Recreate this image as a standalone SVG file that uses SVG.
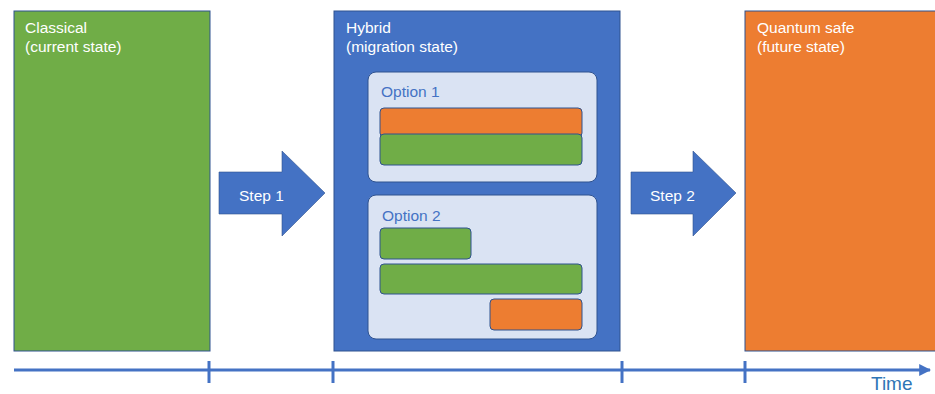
<svg xmlns="http://www.w3.org/2000/svg" width="935" height="394" viewBox="0 0 935 394">
  <defs>
    <style>
      .stage { stroke: #2F528F; stroke-width: 1; }
      .green { fill: #70AD47; }
      .blue { fill: #4472C4; }
      .orange { fill: #ED7D31; }
      .opt { fill: #DAE3F3; stroke: #2F528F; stroke-width: 1; }
      .bar { stroke: #2F528F; stroke-width: 1; }
      .lbl { font-family: "Liberation Sans", Arial, sans-serif; font-size: 15.5px; fill: #FFFFFF; }
      .optlbl { font-family: "Liberation Sans", Arial, sans-serif; font-size: 15.5px; fill: #4472C4; }
      .axis { stroke: #4472C4; stroke-width: 3; fill: none; }
    </style>
    <marker id="axisHead" viewBox="0 0 10 10" refX="9" refY="5" markerWidth="4" markerHeight="4" orient="auto" markerUnits="strokeWidth">
      <path d="M0,0 L10,5 L0,10 z" fill="#4472C4"/>
    </marker>
  </defs>

  <!-- Stage: classical -->
  <g id="classical">
    <rect class="stage green" x="14" y="11" width="196" height="340"/>
    <text class="lbl" x="25" y="33">Classical</text>
    <text class="lbl" x="25" y="52">(current state)</text>
  </g>

  <!-- Stage: hybrid with two options -->
  <g id="hybrid">
    <rect class="stage blue" x="334" y="11" width="286" height="340"/>
    <text class="lbl" x="346" y="33">Hybrid</text>
    <text class="lbl" x="346" y="52">(migration state)</text>
  </g>

  <g id="option1">
    <rect class="opt" x="368" y="72" width="229" height="110" rx="8"/>
    <text class="optlbl" x="381" y="97">Option 1</text>
    <rect class="bar orange" x="380" y="108" width="202" height="29" rx="4"/>
    <rect class="bar green" x="380" y="134" width="202" height="31" rx="4"/>
  </g>

  <g id="option2">
    <rect class="opt" x="368" y="195" width="229" height="144" rx="8"/>
    <text class="optlbl" x="382" y="221">Option 2</text>
    <rect class="bar green" x="380" y="228" width="91" height="31" rx="4"/>
    <rect class="bar green" x="380" y="264" width="202" height="30" rx="4"/>
    <rect class="bar orange" x="490" y="299" width="92" height="31" rx="4"/>
  </g>

  <!-- Stage: quantum safe -->
  <g id="quantum">
    <rect class="stage orange" x="745" y="11" width="192" height="340"/>
    <text class="lbl" x="757" y="33">Quantum safe</text>
    <text class="lbl" x="757" y="52">(future state)</text>
  </g>

  <!-- Transition arrows -->
  <g id="step1">
    <polygon class="blue" stroke="#2F528F" stroke-width="0.6" points="219,172 282,172 282,151 325,193 282,236 282,214 219,214"/>
    <text class="lbl" x="239" y="201">Step 1</text>
  </g>
  <g id="step2">
    <polygon class="blue" stroke="#2F528F" stroke-width="0.6" points="631,172 693,172 693,151 736,193 693,236 693,214 631,214"/>
    <text class="lbl" x="650" y="201">Step 2</text>
  </g>

  <!-- Timeline -->
  <g id="connectors">
    <line class="axis" x1="14" y1="370" x2="930" y2="370" marker-end="url(#axisHead)"/>
    <line class="axis" x1="209" y1="361" x2="209" y2="383"/>
    <line class="axis" x1="333" y1="361" x2="333" y2="383"/>
    <line class="axis" x1="622" y1="361" x2="622" y2="383"/>
    <line class="axis" x1="745" y1="361" x2="745" y2="383"/>
  </g>
  <g id="time-label">
    <text x="871" y="390" font-family="Liberation Sans, Arial, sans-serif" font-size="19" fill="#2E75B6">Time</text>
  </g>
</svg>
